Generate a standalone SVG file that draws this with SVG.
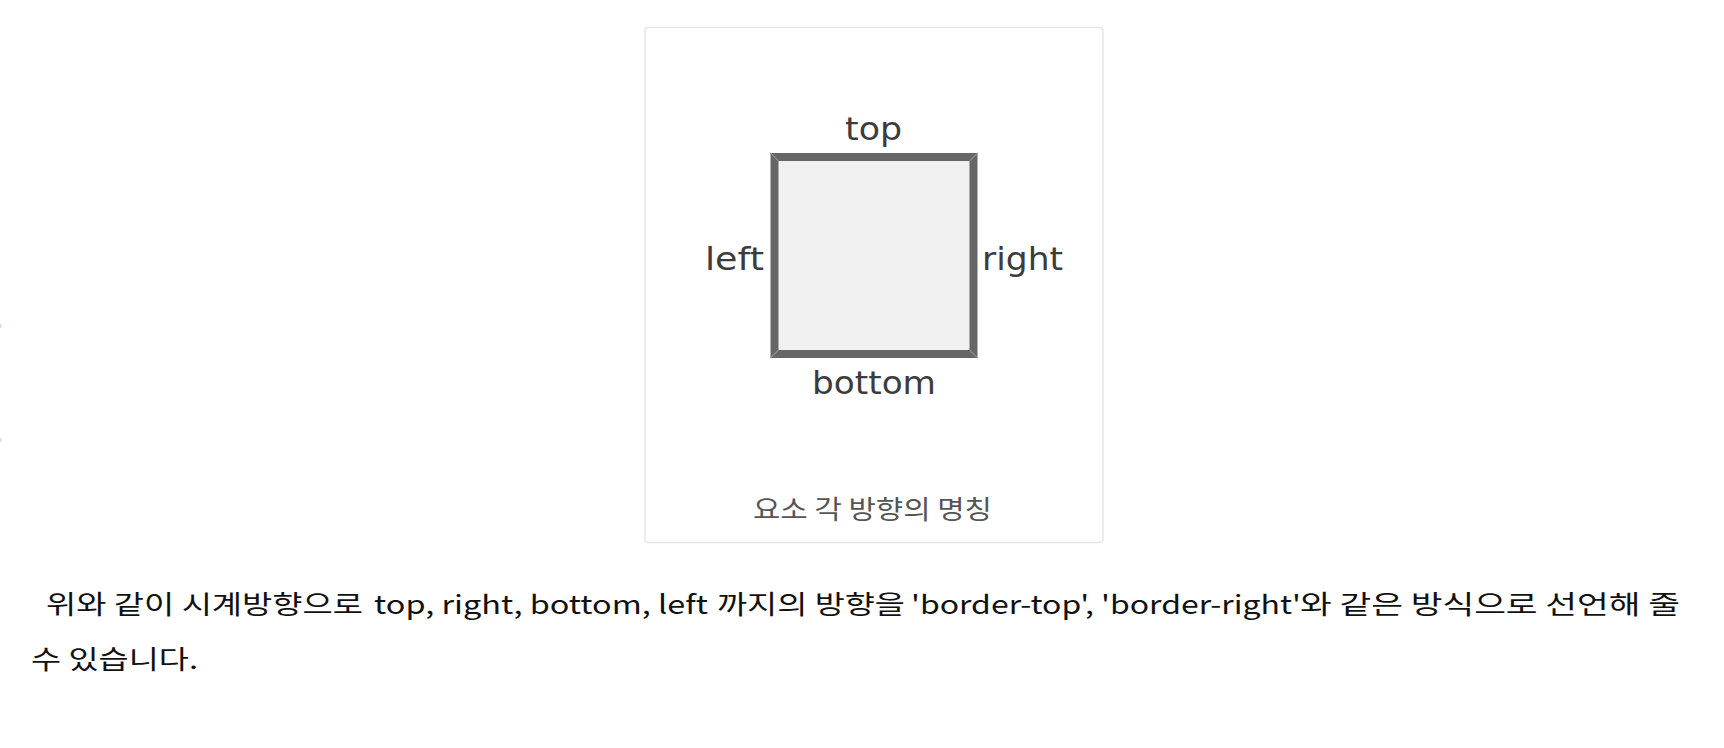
<svg xmlns="http://www.w3.org/2000/svg" width="1724" height="748" viewBox="0 0 1724 748">
<style>
.lbl{font-family:"DejaVu Sans","Open Sans",sans-serif;font-size:32px;fill:#3c3c3c}
.cap{font-family:"Noto Sans CJK KR","Noto Sans",sans-serif;font-size:26px;fill:#555}
.body{font-family:"Noto Sans CJK KR","Noto Sans",sans-serif;font-size:26px;fill:#111}
</style>
<rect width="1724" height="748" fill="#fff"/>
<rect x="0" y="324" width="1.5" height="4" fill="#cfe0f0"/>
<rect x="0" y="438" width="1.5" height="4" fill="#cfe0f0"/>
<g id="figure-frame">
<rect x="645" y="27.5" width="458" height="515" rx="3" fill="#fff" stroke="#e6e6e6" stroke-width="1.5"/>
</g>
<g id="box">
<rect x="774.5" y="157" width="199" height="197" fill="#f1f1f1" stroke="#666" stroke-width="8"/>
<g stroke="#8a8a8a" stroke-width="1.2">
<line x1="770.5" y1="153" x2="778.5" y2="161"/>
<line x1="977.5" y1="153" x2="969.5" y2="161"/>
<line x1="770.5" y1="358" x2="778.5" y2="350"/>
<line x1="977.5" y1="358" x2="969.5" y2="350"/>
</g>
</g>
<g id="label-top"><text class="lbl" x="845" y="140" textLength="57" lengthAdjust="spacingAndGlyphs">top</text></g>
<g id="label-left"><text class="lbl" x="705" y="270" textLength="59" lengthAdjust="spacingAndGlyphs">left</text></g>
<g id="label-right"><text class="lbl" x="982" y="270" textLength="81" lengthAdjust="spacingAndGlyphs">right</text></g>
<g id="label-bottom"><text class="lbl" x="812" y="394" textLength="124" lengthAdjust="spacingAndGlyphs">bottom</text></g>
<g id="caption"><text class="cap" x="753" y="519" textLength="239" lengthAdjust="spacingAndGlyphs">요소 각 방향의 명칭</text></g>
<g id="connectors"></g>
<g id="paragraph">
<text class="body" x="46" y="614" textLength="317" lengthAdjust="spacingAndGlyphs">위와 같이 시계방향으로</text>
<text class="body" x="374" y="614" textLength="334" lengthAdjust="spacingAndGlyphs">top, right, bottom, left</text>
<text class="body" x="717" y="614" textLength="188" lengthAdjust="spacingAndGlyphs">까지의 방향을</text>
<text class="body" x="911" y="614" textLength="390" lengthAdjust="spacingAndGlyphs">'border-top', 'border-right'</text>
<text class="body" x="1300" y="614" textLength="380" lengthAdjust="spacingAndGlyphs">와 같은 방식으로 선언해 줄</text>
<text class="body" x="31" y="669" textLength="167" lengthAdjust="spacingAndGlyphs">수 있습니다.</text>
</g>
</svg>
